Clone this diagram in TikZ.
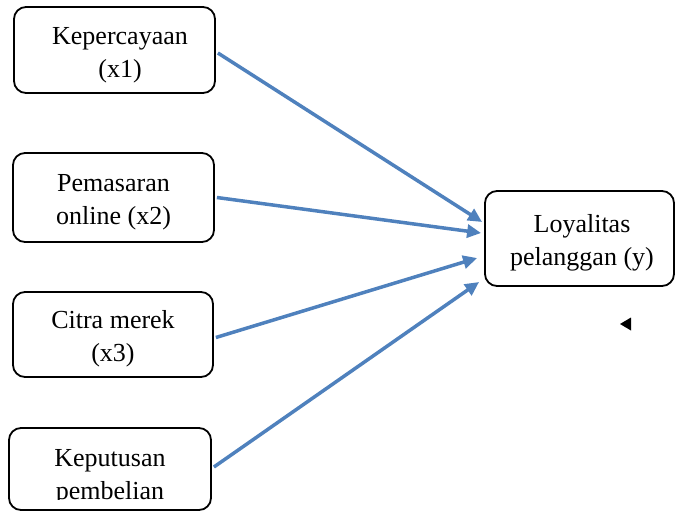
\documentclass[tikz,border=0pt]{standalone}
\usepackage{fontspec}
\setmainfont{Liberation Serif}
\usetikzlibrary{arrows.meta}
\definecolor{arrowblue}{RGB}{79,129,189}
\begin{document}
\begin{tikzpicture}[x=1pt,y=-1pt,
  box/.style={draw=black, line width=1.8pt, rounded corners=12pt, inner sep=0pt},
  lbl/.style={font=\fontsize{26}{33}\selectfont, align=center, inner sep=0pt},
  link/.style={draw=arrowblue, line width=3.5pt, -{Triangle[length=14pt,width=13pt]}}]
\useasboundingbox (0,0) rectangle (675,512);
% boxes
\node[box, minimum width=201pt, minimum height=86pt] (k) at (114.5,50) {};
\node[box, minimum width=201pt, minimum height=89pt] (p) at (113.5,197.5) {};
\node[box, minimum width=200pt, minimum height=85pt] (c) at (113,334.5) {};
\node[box, minimum width=202pt, minimum height=82pt] (kp) at (110,469) {};
\node[box, minimum width=189pt, minimum height=95pt] (y) at (579.5,238.5) {};
% labels
\node[lbl] (kt) at (120,55) {Kepercayaan\\(x1)};
\node[lbl] (pt) at (113.5,202) {Pemasaran\\online (x2)};
\node[lbl] (ct) at (113,339) {Citra merek\\(x3)};
\node[lbl] (yt) at (582,243) {Loyalitas\\pelanggan (y)};
\begin{scope}
  \clip (0,0) rectangle (675,499.5);
  \node[lbl] (kpt) at (110,477.7) {Keputusan\\pembelian};
\end{scope}
% connectors
\draw[link] ([xshift=2pt,yshift=-3pt]k.east) -- ([xshift=-2pt,yshift=16.5pt]y.west);
\draw[link] ([xshift=2pt]p.east) -- ([xshift=-3pt,yshift=5.5pt]y.west);
\draw[link] ([xshift=2pt,yshift=-3pt]c.east) -- ([xshift=-7pt,yshift=-19.5pt]y.west);
\draw[link] ([xshift=2pt,yshift=2pt]kp.east) -- ([xshift=-5pt,yshift=-43.5pt]y.west);
% stray marker
\fill[black] (620,324) -- (631,317.5) -- (631,330.5) -- cycle;
\end{tikzpicture}
\end{document}
